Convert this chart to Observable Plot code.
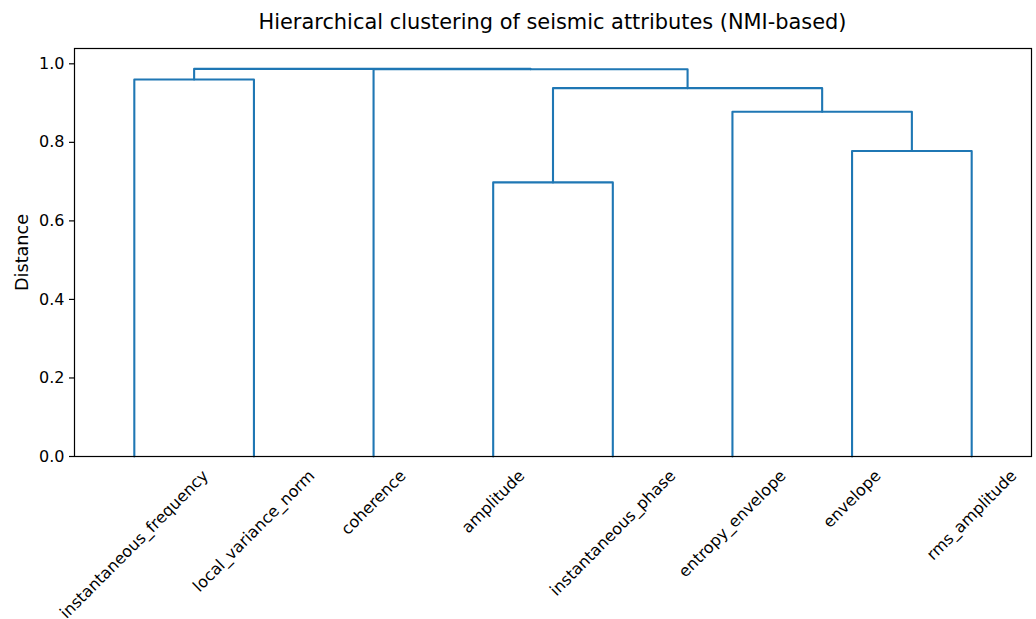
<!DOCTYPE html>
<html>
<head>
<meta charset="utf-8">
<script src="https://cdn.jsdelivr.net/npm/d3@7"></script>
<script src="https://cdn.jsdelivr.net/npm/@observablehq/plot@0.6"></script>
<style>
  html, body { margin: 0; padding: 0; background: #fff; }
  body { width: 1036px; height: 619px; overflow: hidden; font-family: "DejaVu Sans", sans-serif; }
  #title { margin-left: 74px; width: 957px; height: 44px; line-height: 44px; text-align: center; font-size: 20.9px; color: #000; white-space: nowrap; }
  #chart svg { display: block; }
</style>
</head>
<body>
<div id="title">Hierarchical clustering of seismic attributes (NMI-based)</div>
<div id="chart"></div>
<script>
// Leaf attributes, in dendrogram order (left to right)
const leaves = ["instantaneous_frequency", "local_variance_norm", "coherence", "amplitude",
                "instantaneous_phase", "entropy_envelope", "envelope", "rms_amplitude"];

// Linkage: each merge joins two nodes (leaf ids 0..7, new clusters numbered from 8 on)
const mergeLeft   = [0, 3, 6, 5, 9, 2, 8];
const mergeRight  = [1, 4, 7, 10, 11, 12, 13];
const mergeHeight = [0.960, 0.698, 0.778, 0.878, 0.938, 0.986, 0.987];

const yTicks = [0, 0.2, 0.4, 0.6, 0.8, 1.0];

// Node positions: leaves at 5, 15, 25, ... ; clusters at the mean of their children
const nodeX = leaves.map((_, i) => 5 + 10 * i);
const nodeH = leaves.map(() => 0);
const segs = [];
mergeLeft.forEach((l, k) => {
  const r = mergeRight[k], h = mergeHeight[k];
  const pts = [[nodeX[l], nodeH[l]], [nodeX[l], h], [nodeX[r], h], [nodeX[r], nodeH[r]]];
  pts.forEach(([x, y]) => segs.push({id: k, x, y}));
  nodeX.push((nodeX[l] + nodeX[r]) / 2);
  nodeH.push(h);
});

// Rotated leaf labels: centred below each leaf, top of the rotated box just under the axis
const fontSize = 16;
const ctx = document.createElement("canvas").getContext("2d");
ctx.font = `${fontSize}px "DejaVu Sans"`;
const labelMarks = leaves.map((name, i) => {
  const w = ctx.measureText(name).width;
  const boxH = (w + fontSize * 1.164) / Math.SQRT2;
  return Plot.text([name], {
    x: () => 5 + 10 * i,
    text: d => d,
    frameAnchor: "bottom",
    dy: 10 + boxH / 2,
    rotate: -45,
    textAnchor: "middle",
    lineAnchor: "middle",
    fontSize,
    fill: "#000"
  });
});

const chart = Plot.plot({
  width: 1036,
  height: 575,
  marginTop: 4,
  marginBottom: 163,
  marginLeft: 74,
  marginRight: 5,
  style: {fontFamily: "DejaVu Sans", fontSize: `${fontSize}px`, color: "#000", background: "#fff", overflow: "visible"},
  x: {domain: [0, 80], axis: null},
  y: {domain: [0, 1.039]},
  marks: [
    Plot.line(segs, {x: "x", y: "y", z: "id", stroke: "#1f77b4", strokeWidth: 2.1, curve: "linear"}),
    Plot.frame({stroke: "#000", strokeWidth: 1.2}),
    Plot.axisY({ticks: yTicks, tickFormat: d3.format(".1f"), tickSize: 5, tickPadding: 5,
                label: null, fontSize, stroke: "#000", strokeWidth: 1.2}),
    Plot.text(["Distance"], {frameAnchor: "left", dx: -52, rotate: -90, textAnchor: "middle",
                             lineAnchor: "middle", fontSize: 17.6, fill: "#000"}),
    ...labelMarks
  ]
});
document.getElementById("chart").appendChild(chart);
</script>
</body>
</html>
